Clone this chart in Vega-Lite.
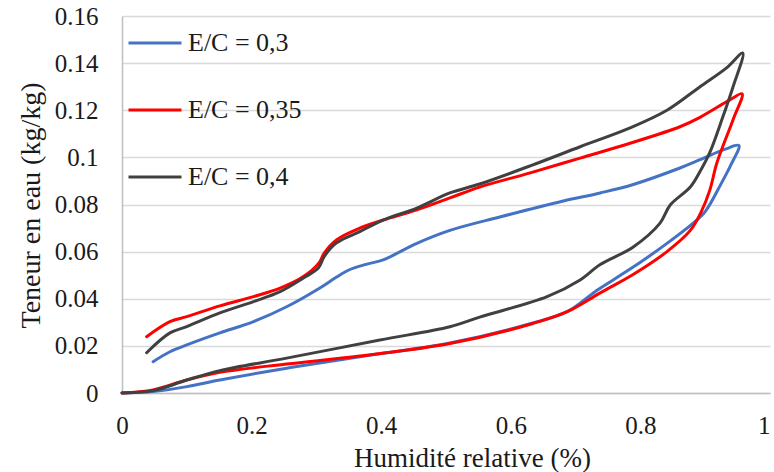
{
  "$schema": "https://vega.github.io/schema/vega-lite/v6.json",
  "width": 648,
  "height": 377,
  "autosize": "none",
  "padding": {"left": 122, "top": 16, "right": 4, "bottom": 79},
  "background": "white",
  "config": {
    "view": {"stroke": null},
    "font": "'Liberation Serif', 'DejaVu Serif', serif",
    "axis": {"labelFont": "'Liberation Serif', 'DejaVu Serif', serif", "titleFont": "'Liberation Serif', 'DejaVu Serif', serif"},
    "legend": {"labelFont": "'Liberation Serif', 'DejaVu Serif', serif"}
  },
  "data": {
    "values": [
      {"s": "E/C = 0,3", "i": 1, "x": 0, "y": 0},
      {"s": "E/C = 0,3", "i": 2, "x": 0.048, "y": 0.0006},
      {"s": "E/C = 0,3", "i": 3, "x": 0.1, "y": 0.0027},
      {"s": "E/C = 0,3", "i": 4, "x": 0.151, "y": 0.0055},
      {"s": "E/C = 0,3", "i": 5, "x": 0.254, "y": 0.0105},
      {"s": "E/C = 0,3", "i": 6, "x": 0.367, "y": 0.0154},
      {"s": "E/C = 0,3", "i": 7, "x": 0.506, "y": 0.0212},
      {"s": "E/C = 0,3", "i": 8, "x": 0.634, "y": 0.0297},
      {"s": "E/C = 0,3", "i": 9, "x": 0.687, "y": 0.0345},
      {"s": "E/C = 0,3", "i": 10, "x": 0.73, "y": 0.043},
      {"s": "E/C = 0,3", "i": 11, "x": 0.758, "y": 0.048},
      {"s": "E/C = 0,3", "i": 12, "x": 0.8, "y": 0.0555},
      {"s": "E/C = 0,3", "i": 13, "x": 0.841, "y": 0.0635},
      {"s": "E/C = 0,3", "i": 14, "x": 0.881, "y": 0.072},
      {"s": "E/C = 0,3", "i": 15, "x": 0.9, "y": 0.077},
      {"s": "E/C = 0,3", "i": 16, "x": 0.923, "y": 0.088},
      {"s": "E/C = 0,3", "i": 17, "x": 0.94, "y": 0.097},
      {"s": "E/C = 0,3", "i": 18, "x": 0.952, "y": 0.105},
      {"s": "E/C = 0,3", "i": 19, "x": 0.931, "y": 0.1035},
      {"s": "E/C = 0,3", "i": 20, "x": 0.892, "y": 0.099},
      {"s": "E/C = 0,3", "i": 21, "x": 0.861, "y": 0.0955},
      {"s": "E/C = 0,3", "i": 22, "x": 0.789, "y": 0.0885},
      {"s": "E/C = 0,3", "i": 23, "x": 0.738, "y": 0.0849},
      {"s": "E/C = 0,3", "i": 24, "x": 0.681, "y": 0.0815},
      {"s": "E/C = 0,3", "i": 25, "x": 0.583, "y": 0.0747},
      {"s": "E/C = 0,3", "i": 26, "x": 0.506, "y": 0.069},
      {"s": "E/C = 0,3", "i": 27, "x": 0.455, "y": 0.0635},
      {"s": "E/C = 0,3", "i": 28, "x": 0.403, "y": 0.0565},
      {"s": "E/C = 0,3", "i": 29, "x": 0.375, "y": 0.0545},
      {"s": "E/C = 0,3", "i": 30, "x": 0.35, "y": 0.0522},
      {"s": "E/C = 0,3", "i": 31, "x": 0.33, "y": 0.049},
      {"s": "E/C = 0,3", "i": 32, "x": 0.306, "y": 0.0447},
      {"s": "E/C = 0,3", "i": 33, "x": 0.254, "y": 0.0366},
      {"s": "E/C = 0,3", "i": 34, "x": 0.203, "y": 0.0303},
      {"s": "E/C = 0,3", "i": 35, "x": 0.151, "y": 0.0255},
      {"s": "E/C = 0,3", "i": 36, "x": 0.1, "y": 0.0204},
      {"s": "E/C = 0,3", "i": 37, "x": 0.074, "y": 0.0175},
      {"s": "E/C = 0,3", "i": 38, "x": 0.048, "y": 0.0133},

      {"s": "E/C = 0,35", "i": 1, "x": 0, "y": 0},
      {"s": "E/C = 0,35", "i": 2, "x": 0.048, "y": 0.0013},
      {"s": "E/C = 0,35", "i": 3, "x": 0.1, "y": 0.0055},
      {"s": "E/C = 0,35", "i": 4, "x": 0.151, "y": 0.0088},
      {"s": "E/C = 0,35", "i": 5, "x": 0.254, "y": 0.0123},
      {"s": "E/C = 0,35", "i": 6, "x": 0.367, "y": 0.0157},
      {"s": "E/C = 0,35", "i": 7, "x": 0.506, "y": 0.021},
      {"s": "E/C = 0,35", "i": 8, "x": 0.634, "y": 0.0295},
      {"s": "E/C = 0,35", "i": 9, "x": 0.687, "y": 0.0345},
      {"s": "E/C = 0,35", "i": 10, "x": 0.738, "y": 0.0425},
      {"s": "E/C = 0,35", "i": 11, "x": 0.79, "y": 0.0505},
      {"s": "E/C = 0,35", "i": 12, "x": 0.841, "y": 0.06},
      {"s": "E/C = 0,35", "i": 13, "x": 0.877, "y": 0.069},
      {"s": "E/C = 0,35", "i": 14, "x": 0.894, "y": 0.077},
      {"s": "E/C = 0,35", "i": 15, "x": 0.907, "y": 0.086},
      {"s": "E/C = 0,35", "i": 16, "x": 0.918, "y": 0.0976},
      {"s": "E/C = 0,35", "i": 17, "x": 0.943, "y": 0.116},
      {"s": "E/C = 0,35", "i": 18, "x": 0.957, "y": 0.127},
      {"s": "E/C = 0,35", "i": 19, "x": 0.938, "y": 0.1244},
      {"s": "E/C = 0,35", "i": 20, "x": 0.892, "y": 0.117},
      {"s": "E/C = 0,35", "i": 21, "x": 0.861, "y": 0.113},
      {"s": "E/C = 0,35", "i": 22, "x": 0.784, "y": 0.106},
      {"s": "E/C = 0,35", "i": 23, "x": 0.707, "y": 0.0997},
      {"s": "E/C = 0,35", "i": 24, "x": 0.63, "y": 0.0934},
      {"s": "E/C = 0,35", "i": 25, "x": 0.552, "y": 0.0874},
      {"s": "E/C = 0,35", "i": 26, "x": 0.506, "y": 0.0828},
      {"s": "E/C = 0,35", "i": 27, "x": 0.455, "y": 0.0777},
      {"s": "E/C = 0,35", "i": 28, "x": 0.403, "y": 0.0734},
      {"s": "E/C = 0,35", "i": 29, "x": 0.367, "y": 0.07},
      {"s": "E/C = 0,35", "i": 30, "x": 0.331, "y": 0.065},
      {"s": "E/C = 0,35", "i": 31, "x": 0.312, "y": 0.0594},
      {"s": "E/C = 0,35", "i": 32, "x": 0.304, "y": 0.0552},
      {"s": "E/C = 0,35", "i": 33, "x": 0.28, "y": 0.0494},
      {"s": "E/C = 0,35", "i": 34, "x": 0.244, "y": 0.0445},
      {"s": "E/C = 0,35", "i": 35, "x": 0.203, "y": 0.0409},
      {"s": "E/C = 0,35", "i": 36, "x": 0.151, "y": 0.037},
      {"s": "E/C = 0,35", "i": 37, "x": 0.1, "y": 0.0324},
      {"s": "E/C = 0,35", "i": 38, "x": 0.074, "y": 0.0303},
      {"s": "E/C = 0,35", "i": 39, "x": 0.038, "y": 0.0239},

      {"s": "E/C = 0,4", "i": 1, "x": 0, "y": 0},
      {"s": "E/C = 0,4", "i": 2, "x": 0.048, "y": 0.001},
      {"s": "E/C = 0,4", "i": 3, "x": 0.1, "y": 0.0055},
      {"s": "E/C = 0,4", "i": 4, "x": 0.151, "y": 0.0095},
      {"s": "E/C = 0,4", "i": 5, "x": 0.254, "y": 0.0148},
      {"s": "E/C = 0,4", "i": 6, "x": 0.398, "y": 0.0225},
      {"s": "E/C = 0,4", "i": 7, "x": 0.506, "y": 0.0281},
      {"s": "E/C = 0,4", "i": 8, "x": 0.552, "y": 0.0322},
      {"s": "E/C = 0,4", "i": 9, "x": 0.656, "y": 0.0409},
      {"s": "E/C = 0,4", "i": 10, "x": 0.707, "y": 0.048},
      {"s": "E/C = 0,4", "i": 11, "x": 0.738, "y": 0.0545},
      {"s": "E/C = 0,4", "i": 12, "x": 0.789, "y": 0.062},
      {"s": "E/C = 0,4", "i": 13, "x": 0.83, "y": 0.072},
      {"s": "E/C = 0,4", "i": 14, "x": 0.846, "y": 0.0798},
      {"s": "E/C = 0,4", "i": 15, "x": 0.877, "y": 0.0874},
      {"s": "E/C = 0,4", "i": 16, "x": 0.892, "y": 0.094},
      {"s": "E/C = 0,4", "i": 17, "x": 0.907, "y": 0.102},
      {"s": "E/C = 0,4", "i": 18, "x": 0.927, "y": 0.117},
      {"s": "E/C = 0,4", "i": 19, "x": 0.943, "y": 0.13},
      {"s": "E/C = 0,4", "i": 20, "x": 0.958, "y": 0.1443},
      {"s": "E/C = 0,4", "i": 21, "x": 0.933, "y": 0.138},
      {"s": "E/C = 0,4", "i": 22, "x": 0.892, "y": 0.13},
      {"s": "E/C = 0,4", "i": 23, "x": 0.841, "y": 0.12},
      {"s": "E/C = 0,4", "i": 24, "x": 0.784, "y": 0.1125},
      {"s": "E/C = 0,4", "i": 25, "x": 0.707, "y": 0.1045},
      {"s": "E/C = 0,4", "i": 26, "x": 0.63, "y": 0.0964},
      {"s": "E/C = 0,4", "i": 27, "x": 0.552, "y": 0.0887},
      {"s": "E/C = 0,4", "i": 28, "x": 0.506, "y": 0.0849},
      {"s": "E/C = 0,4", "i": 29, "x": 0.455, "y": 0.0785},
      {"s": "E/C = 0,4", "i": 30, "x": 0.403, "y": 0.0734},
      {"s": "E/C = 0,4", "i": 31, "x": 0.367, "y": 0.0685},
      {"s": "E/C = 0,4", "i": 32, "x": 0.331, "y": 0.0637},
      {"s": "E/C = 0,4", "i": 33, "x": 0.312, "y": 0.0579},
      {"s": "E/C = 0,4", "i": 34, "x": 0.303, "y": 0.053},
      {"s": "E/C = 0,4", "i": 35, "x": 0.28, "y": 0.0488},
      {"s": "E/C = 0,4", "i": 36, "x": 0.244, "y": 0.043},
      {"s": "E/C = 0,4", "i": 37, "x": 0.203, "y": 0.0388},
      {"s": "E/C = 0,4", "i": 38, "x": 0.151, "y": 0.034},
      {"s": "E/C = 0,4", "i": 39, "x": 0.1, "y": 0.0282},
      {"s": "E/C = 0,4", "i": 40, "x": 0.074, "y": 0.0255},
      {"s": "E/C = 0,4", "i": 41, "x": 0.038, "y": 0.0171}
    ]
  },
  "mark": {"type": "line", "interpolate": "catmull-rom", "strokeWidth": 3, "strokeCap": "round", "strokeJoin": "round"},
  "encoding": {
    "x": {
      "field": "x", "type": "quantitative",
      "scale": {"domain": [0, 1], "nice": false, "zero": false},
      "axis": {
        "title": "Humidité relative (%)",
        "values": [0, 0.2, 0.4, 0.6, 0.8, 1],
        "format": "~g",
        "grid": false,
        "ticks": false,
        "domainColor": "#BFBFBF", "domainWidth": 1.5,
        "labelFontSize": 25, "labelColor": "#1a1a1a",
        "labelBaseline": "alphabetic", "labelPadding": 40,
        "labelAlign": {"expr": "datum.value == 1 ? 'right' : 'center'"},
        "labelFlush": false, "labelOverlap": false,
        "titleFontSize": 27, "titleFontWeight": "normal", "titleColor": "#1a1a1a",
        "titleX": 350, "titleY": 73, "titleBaseline": "alphabetic", "titleAlign": "center"
      }
    },
    "y": {
      "field": "y", "type": "quantitative",
      "scale": {"domain": [0, 0.16], "nice": false, "zero": false},
      "axis": {
        "title": "Teneur en eau (kg/kg)",
        "values": [0, 0.02, 0.04, 0.06, 0.08, 0.1, 0.12, 0.14, 0.16],
        "format": "~g",
        "grid": true, "gridColor": "#D9D9D9", "gridWidth": 1.5,
        "ticks": false,
        "domainColor": "#BFBFBF", "domainWidth": 1.5,
        "labelFontSize": 25, "labelColor": "#1a1a1a",
        "labelPadding": 24, "labelOverlap": false, "labelFlush": false,
        "titleFontSize": 28, "titleFontWeight": "normal", "titleColor": "#1a1a1a",
        "titleX": -83, "titleY": 189, "titleBaseline": "alphabetic", "titleAngle": -90, "titleAlign": "center"
      }
    },
    "color": {
      "field": "s", "type": "nominal",
      "scale": {"domain": ["E/C = 0,3", "E/C = 0,35", "E/C = 0,4"], "range": ["#4472C4", "#FF0000", "#404040"]},
      "legend": {
        "title": null,
        "orient": "none",
        "legendX": 5,
        "legendY": -1,
        "symbolType": "stroke",
        "symbolSize": 2809,
        "symbolStrokeWidth": 3,
        "rowPadding": 26,
        "labelOffset": 5,
        "labelFontSize": 26,
        "labelColor": "#1a1a1a",
        "padding": 0
      }
    },
    "order": {"field": "i", "type": "quantitative"}
  }
}
